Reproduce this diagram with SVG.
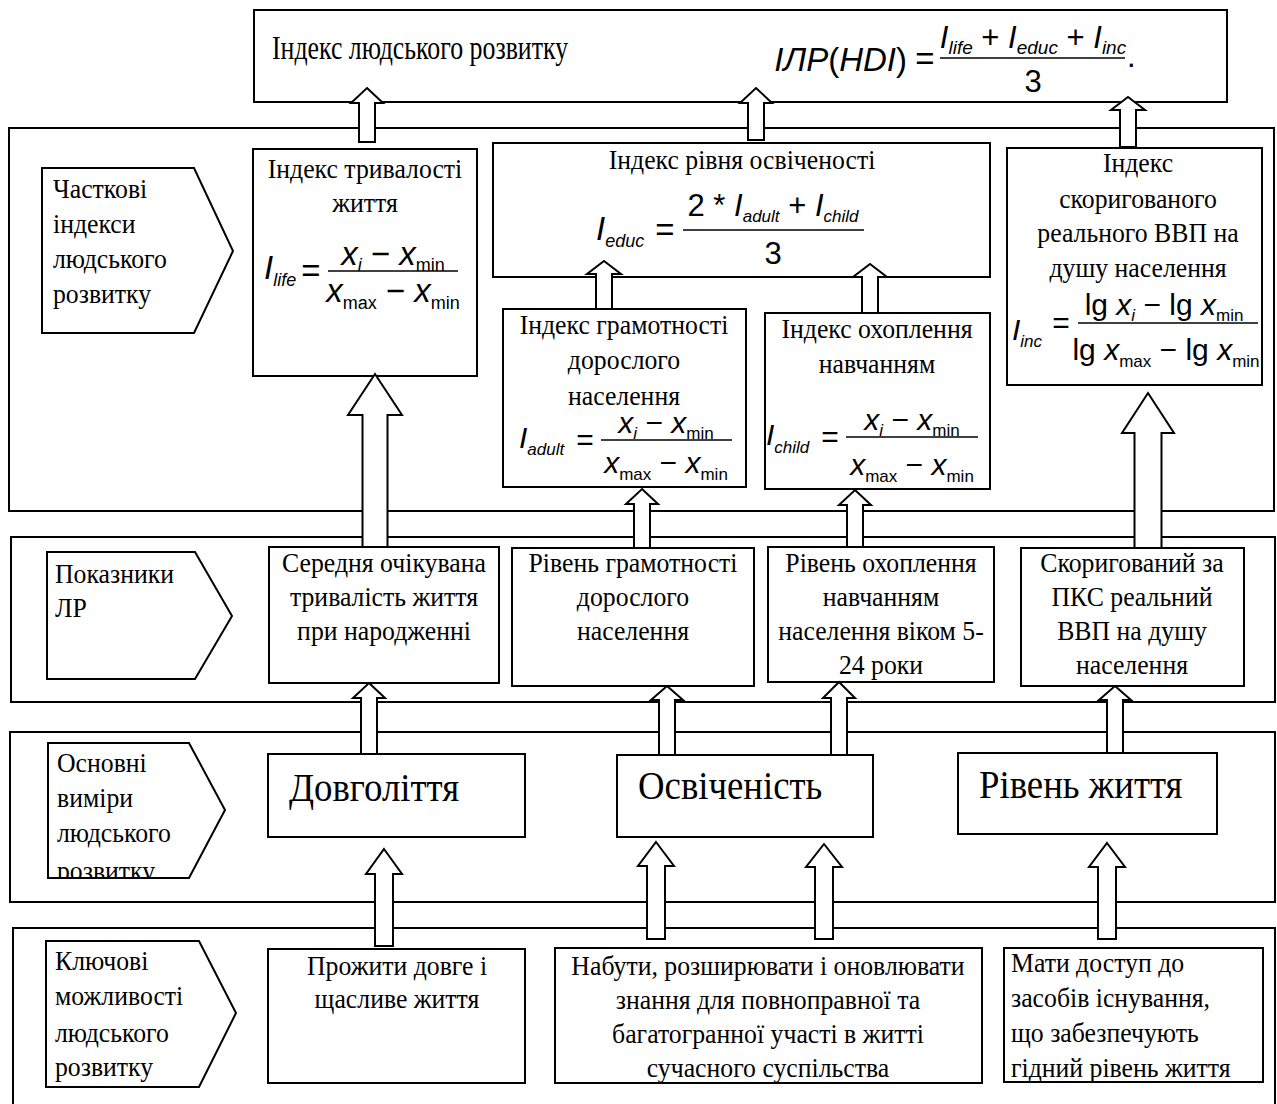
<svg xmlns="http://www.w3.org/2000/svg" width="1277" height="1104" viewBox="0 0 1277 1104">
  <style>
    .bg { fill: #ffffff; }
    .box { fill: #ffffff; stroke: #000000; stroke-width: 2; }
    .panel { fill: none; stroke: #000000; stroke-width: 2; }
    .t { font-family: "Liberation Serif", "Times New Roman", serif; font-size: 28px; fill: #000000; }
    .c { text-anchor: middle; }
    .big { font-size: 40px; }
    .title { font-size: 34px; }
    .m { font-family: "Liberation Sans", Arial, sans-serif; font-style: italic; fill: #000000; }
    .up { font-style: normal; }
    .fl { stroke: #000000; stroke-width: 1.5; }
    .arrow { fill: #ffffff; stroke: #000000; stroke-width: 2; stroke-linejoin: miter; }
  </style>
  <defs>
    <clipPath id="clip-dims">
      <polygon points="48,743 189,743 225,810 189,877 48,877"/>
    </clipPath>
  </defs>
  <rect class="bg" x="0" y="0" width="1277" height="1104"/>

  <!-- level frames -->
  <g id="panels">
    <rect class="panel" x="9" y="128" width="1265" height="383"/>
    <rect class="panel" x="11" y="537" width="1264" height="165"/>
    <rect class="panel" x="10" y="732" width="1265" height="170"/>
    <rect class="panel" x="13" y="928" width="1262" height="190"/>
  </g>

  <!-- top: composite index -->
  <g id="hdi">
    <rect class="box" x="254" y="10" width="973" height="92"/>
    <g transform="matrix(0.76 0 0 1 65.28 0)">
      <text class="t title" x="272" y="59">Індекс людського розвитку</text>
    </g>
    <text class="m" font-size="33" x="907" y="71" text-anchor="end">ІЛР<tspan class="up">(</tspan>HDI<tspan class="up">)</tspan></text>
    <text class="m up" font-size="33" x="925" y="70" text-anchor="middle">=</text>
    <text class="m" font-size="31" x="1033" y="48" text-anchor="middle">I<tspan font-size="19" dy="6">life</tspan><tspan class="up" dy="-6"> + </tspan>I<tspan font-size="19" dy="6">educ</tspan><tspan class="up" dy="-6"> + </tspan>I<tspan font-size="19" dy="6">inc</tspan></text>
    <line class="fl" x1="940" y1="58" x2="1125" y2="58"/>
    <text class="m up" font-size="31" x="1033" y="92" text-anchor="middle">3</text>
    <text class="m up" font-size="31" x="1127" y="67">.</text>
  </g>

  <!-- level 1: partial indices -->
  <g id="lbl-partial">
    <polygon class="box" points="42,168 194,168 233,251 194,333 42,333"/>
    <g transform="matrix(0.92 0 0 1 4.24 0)">
      <text class="t" x="53" y="198">Часткові</text>
      <text class="t" x="53" y="233">індекси</text>
      <text class="t" x="53" y="268">людського</text>
      <text class="t" x="53" y="303">розвитку</text>
    </g>
  </g>

  <g id="idx-life">
    <rect class="box" x="253" y="149" width="224" height="227"/>
    <g transform="matrix(0.92 0 0 1 29.2 0)">
      <text class="t c" x="365" y="178">Індекс тривалості</text>
      <text class="t c" x="365" y="212">життя</text>
    </g>
    <text class="m" font-size="33" x="264" y="279">I<tspan font-size="18" dy="7">life</tspan></text>
    <text class="m up" font-size="33" x="311" y="282" text-anchor="middle">=</text>
    <text class="m" font-size="33" x="393" y="265" text-anchor="middle">x<tspan font-size="18" dy="6">i</tspan><tspan class="up" dy="-6"> − </tspan>x<tspan class="up" font-size="18" dy="6">min</tspan></text>
    <line class="fl" x1="328" y1="271" x2="458" y2="271"/>
    <text class="m" font-size="33" x="393" y="302" text-anchor="middle">x<tspan class="up" font-size="18" dy="7">max</tspan><tspan class="up" dy="-7"> − </tspan>x<tspan class="up" font-size="18" dy="7">min</tspan></text>
  </g>

  <g id="idx-educ">
    <rect class="box" x="493" y="143" width="497" height="134"/>
    <g transform="matrix(0.92 0 0 1 59.36 0)">
      <text class="t c" x="742" y="169">Індекс рівня освіченості</text>
    </g>
    <text class="m" font-size="33" x="596" y="240">I<tspan font-size="18" dy="7">educ</tspan></text>
    <text class="m up" font-size="33" x="665" y="241" text-anchor="middle">=</text>
    <text class="m" font-size="31" x="773" y="216" text-anchor="middle"><tspan class="up">2 * </tspan>I<tspan font-size="17" dy="6">adult</tspan><tspan class="up" dy="-6"> + </tspan>I<tspan font-size="17" dy="6">child</tspan></text>
    <line class="fl" x1="683" y1="230" x2="864" y2="230"/>
    <text class="m up" font-size="31" x="773" y="264" text-anchor="middle">3</text>
  </g>

  <g id="idx-adult">
    <rect class="box" x="503" y="309" width="243" height="178"/>
    <g transform="matrix(0.92 0 0 1 49.92 0)">
      <text class="t c" x="624" y="334">Індекс грамотності</text>
      <text class="t c" x="624" y="369">дорослого</text>
      <text class="t c" x="624" y="405">населення</text>
    </g>
    <text class="m" font-size="30" x="519" y="448">I<tspan font-size="17" dy="7">adult</tspan></text>
    <text class="m up" font-size="30" x="585" y="450" text-anchor="middle">=</text>
    <text class="m" font-size="30" x="666" y="433" text-anchor="middle">x<tspan font-size="17" dy="6">i</tspan><tspan class="up" dy="-6"> − </tspan>x<tspan class="up" font-size="17" dy="6">min</tspan></text>
    <line class="fl" x1="601" y1="440" x2="732" y2="440"/>
    <text class="m" font-size="30" x="666" y="473" text-anchor="middle">x<tspan class="up" font-size="17" dy="7">max</tspan><tspan class="up" dy="-7"> − </tspan>x<tspan class="up" font-size="17" dy="7">min</tspan></text>
  </g>

  <g id="idx-child">
    <rect class="box" x="765" y="313" width="225" height="176"/>
    <g transform="matrix(0.92 0 0 1 70.16 0)">
      <text class="t c" x="877" y="338">Індекс охоплення</text>
      <text class="t c" x="877" y="373">навчанням</text>
    </g>
    <text class="m" font-size="30" x="766" y="445">I<tspan font-size="17" dy="8">child</tspan></text>
    <text class="m up" font-size="30" x="830" y="447" text-anchor="middle">=</text>
    <text class="m" font-size="30" x="912" y="430" text-anchor="middle">x<tspan font-size="17" dy="6">i</tspan><tspan class="up" dy="-6"> − </tspan>x<tspan class="up" font-size="17" dy="6">min</tspan></text>
    <line class="fl" x1="846" y1="437" x2="978" y2="437"/>
    <text class="m" font-size="30" x="912" y="475" text-anchor="middle">x<tspan class="up" font-size="17" dy="7">max</tspan><tspan class="up" dy="-7"> − </tspan>x<tspan class="up" font-size="17" dy="7">min</tspan></text>
  </g>

  <g id="idx-inc">
    <rect class="box" x="1007" y="148" width="255" height="237"/>
    <g transform="matrix(0.92 0 0 1 91.04 0)">
      <text class="t c" x="1138" y="172">Індекс</text>
      <text class="t c" x="1138" y="208">скоригованого</text>
      <text class="t c" x="1138" y="242">реального ВВП на</text>
      <text class="t c" x="1138" y="277">душу населення</text>
    </g>
    <text class="m" font-size="30" x="1012" y="340">I<tspan font-size="17" dy="7">inc</tspan></text>
    <text class="m up" font-size="30" x="1061" y="333" text-anchor="middle">=</text>
    <text class="m" font-size="30" x="1164" y="315" text-anchor="middle"><tspan class="up">lg </tspan>x<tspan font-size="17" dy="6">i</tspan><tspan class="up" dy="-6"> − lg </tspan>x<tspan class="up" font-size="17" dy="6">min</tspan></text>
    <line class="fl" x1="1078" y1="323" x2="1258" y2="323"/>
    <text class="m" font-size="30" x="1166" y="360" text-anchor="middle"><tspan class="up">lg </tspan>x<tspan class="up" font-size="17" dy="7">max</tspan><tspan class="up" dy="-7"> − lg </tspan>x<tspan class="up" font-size="17" dy="7">min</tspan></text>
  </g>

  <!-- level 2: indicators -->
  <g id="lbl-indicators">
    <polygon class="box" points="47,552 195,552 232,616 195,679 47,679"/>
    <g transform="matrix(0.92 0 0 1 4.4 0)">
      <text class="t" x="55" y="583">Показники</text>
      <text class="t" x="55" y="617">ЛР</text>
    </g>
  </g>

  <g id="ind-life">
    <rect class="box" x="269" y="547" width="230" height="136"/>
    <g transform="matrix(0.92 0 0 1 30.72 0)">
      <text class="t c" x="384" y="572">Середня очікувана</text>
      <text class="t c" x="384" y="606">тривалість життя</text>
      <text class="t c" x="384" y="640">при народженні</text>
    </g>
  </g>

  <g id="ind-literacy">
    <rect class="box" x="512" y="548" width="242" height="138"/>
    <g transform="matrix(0.92 0 0 1 50.64 0)">
      <text class="t c" x="633" y="572">Рівень грамотності</text>
      <text class="t c" x="633" y="606">дорослого</text>
      <text class="t c" x="633" y="640">населення</text>
    </g>
  </g>

  <g id="ind-enrol">
    <rect class="box" x="768" y="547" width="226" height="135"/>
    <g transform="matrix(0.92 0 0 1 70.48 0)">
      <text class="t c" x="881" y="572">Рівень охоплення</text>
      <text class="t c" x="881" y="606">навчанням</text>
      <text class="t c" x="881" y="640">населення віком 5-</text>
      <text class="t c" x="881" y="674">24 роки</text>
    </g>
  </g>

  <g id="ind-gdp">
    <rect class="box" x="1021" y="548" width="223" height="138"/>
    <g transform="matrix(0.92 0 0 1 90.56 0)">
      <text class="t c" x="1132" y="572">Скоригований за</text>
      <text class="t c" x="1132" y="606">ПКС реальний</text>
      <text class="t c" x="1132" y="640">ВВП на душу</text>
      <text class="t c" x="1132" y="674">населення</text>
    </g>
  </g>

  <!-- level 3: basic dimensions -->
  <g id="lbl-dimensions">
    <polygon class="box" points="48,743 189,743 225,810 189,878 48,878"/>
    <g clip-path="url(#clip-dims)">
      <g transform="matrix(0.92 0 0 1 4.56 0)">
        <text class="t" x="57" y="772">Основні</text>
        <text class="t" x="57" y="807">виміри</text>
        <text class="t" x="57" y="842">людського</text>
        <text class="t" x="57" y="880">розвитку</text>
      </g>
    </g>
  </g>

  <g id="dim-longevity">
    <rect class="box" x="268" y="754" width="257" height="83"/>
    <g transform="matrix(0.92 0 0 1 23.12 0)">
      <text class="t big" x="289" y="801">Довголіття</text>
    </g>
  </g>

  <g id="dim-education">
    <rect class="box" x="617" y="755" width="256" height="82"/>
    <g transform="matrix(0.92 0 0 1 51.04 0)">
      <text class="t big" x="638" y="799">Освіченість</text>
    </g>
  </g>

  <g id="dim-living">
    <rect class="box" x="958" y="753" width="259" height="81"/>
    <g transform="matrix(0.92 0 0 1 78.32 0)">
      <text class="t big" x="979" y="798">Рівень життя</text>
    </g>
  </g>

  <!-- level 4: key capabilities -->
  <g id="lbl-capabilities">
    <polygon class="box" points="46,941 199,941 236,1013 199,1087 46,1087"/>
    <g transform="matrix(0.92 0 0 1 4.4 0)">
      <text class="t" x="55" y="970">Ключові</text>
      <text class="t" x="55" y="1005">можливості</text>
      <text class="t" x="55" y="1042">людського</text>
      <text class="t" x="55" y="1076">розвитку</text>
    </g>
  </g>

  <g id="cap-life">
    <rect class="box" x="268" y="949" width="257" height="134"/>
    <g transform="matrix(0.92 0 0 1 31.76 0)">
      <text class="t c" x="397" y="975">Прожити довге і</text>
      <text class="t c" x="397" y="1008">щасливе життя</text>
    </g>
  </g>

  <g id="cap-knowledge">
    <rect class="box" x="555" y="948" width="427" height="135"/>
    <g transform="matrix(0.92 0 0 1 61.44 0)">
      <text class="t c" x="768" y="975">Набути, розширювати і оновлювати</text>
      <text class="t c" x="768" y="1009">знання для повноправної та</text>
      <text class="t c" x="768" y="1043">багатогранної участі в житті</text>
      <text class="t c" x="768" y="1077">сучасного суспільства</text>
    </g>
  </g>

  <g id="cap-resources">
    <rect class="box" x="1004" y="948" width="259" height="134"/>
    <g transform="matrix(0.92 0 0 1 80.88 0)">
      <text class="t" x="1011" y="972">Мати доступ до</text>
      <text class="t" x="1011" y="1007">засобів існування,</text>
      <text class="t" x="1011" y="1042">що забезпечують</text>
      <text class="t" x="1011" y="1077">гідний рівень життя</text>
    </g>
  </g>

  <!-- block arrows -->
  <g id="connectors">
    <path class="arrow" d="M367,88 L383,103 L375,103 L375,142 L359,142 L359,103 L351,103 Z"/>
    <path class="arrow" d="M756,88 L772,103 L764,103 L764,140 L748,140 L748,103 L740,103 Z"/>
    <path class="arrow" d="M1128,97 L1145,110 L1136,110 L1136,147 L1120,147 L1120,110 L1111,110 Z"/>
    <path class="arrow" d="M375,374 L402,415 L387.5,415 L387.5,547 L362.5,547 L362.5,415 L348,415 Z"/>
    <path class="arrow" d="M604,261 L621,274 L612,274 L612,309 L596,309 L596,274 L587,274 Z"/>
    <path class="arrow" d="M870,264 L887,277 L878,277 L878,313 L862,313 L862,277 L853,277 Z"/>
    <path class="arrow" d="M642,489 L658,504 L650,504 L650,548 L634,548 L634,504 L626,504 Z"/>
    <path class="arrow" d="M855,490 L871,505 L863,505 L863,547 L847,547 L847,505 L839,505 Z"/>
    <path class="arrow" d="M1148,393 L1174,433 L1161.5,433 L1161.5,548 L1134.5,548 L1134.5,433 L1122,433 Z"/>
    <path class="arrow" d="M369,683 L385,698 L377,698 L377,754 L361,754 L361,698 L353,698 Z"/>
    <path class="arrow" d="M667,686 L683,700 L675,700 L675,755 L659,755 L659,700 L651,700 Z"/>
    <path class="arrow" d="M839,682 L855,698 L847,698 L847,755 L831,755 L831,698 L823,698 Z"/>
    <path class="arrow" d="M1115,686 L1131,700 L1123,700 L1123,753 L1107,753 L1107,700 L1099,700 Z"/>
    <path class="arrow" d="M384,849 L402,874 L393,874 L393,946 L375,946 L375,874 L366,874 Z"/>
    <path class="arrow" d="M656,842 L674,866 L665,866 L665,939 L647,939 L647,866 L638,866 Z"/>
    <path class="arrow" d="M824,844 L842,867 L833,867 L833,939 L815,939 L815,867 L806,867 Z"/>
    <path class="arrow" d="M1107,843 L1125,867 L1116,867 L1116,939 L1098,939 L1098,867 L1089,867 Z"/>
  </g>
</svg>
